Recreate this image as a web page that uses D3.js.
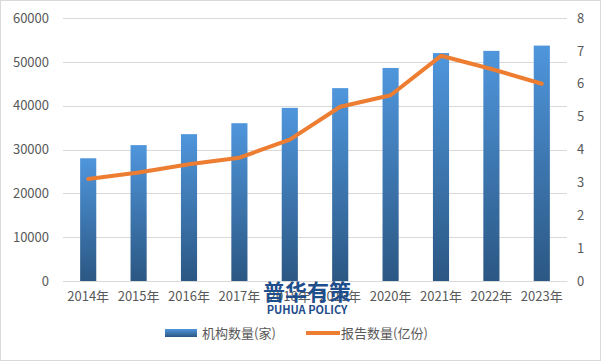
<!DOCTYPE html>
<html>
<head>
<meta charset="utf-8">
<script src="https://cdn.jsdelivr.net/npm/d3@7"></script>
<style>
  body { margin: 0; background: #fff; }
  text { font-family: "Noto Sans CJK SC", "Noto Sans", sans-serif; }
</style>
</head>
<body>
<div id="chart"></div>
<script>
const years = ["2014年","2015年","2016年","2017年","2018年","2019年","2020年","2021年","2022年","2023年"];
const orgCounts = [28000, 31000, 33500, 36000, 39500, 44000, 48600, 52000, 52500, 53700];
const reportCounts = [3.1, 3.3, 3.55, 3.75, 4.3, 5.3, 5.65, 6.85, 6.45, 6.0];
const leftTicks = [0, 10000, 20000, 30000, 40000, 50000, 60000];
const rightTicks = [0, 1, 2, 3, 4, 5, 6, 7, 8];

const width = 601, height = 361;
const margin = {top: 18, right: 33, bottom: 80, left: 63};

const svg = d3.select("#chart").append("svg")
  .attr("width", width)
  .attr("height", height);

// outer border
svg.append("rect")
  .attr("x", 0.5).attr("y", 0.5)
  .attr("width", width - 1).attr("height", height - 1)
  .attr("fill", "#fff")
  .attr("stroke", "#d9d9d9");

const defs = svg.append("defs");
const grad = defs.append("linearGradient")
  .attr("id", "barGrad")
  .attr("x1", 0).attr("y1", 0).attr("x2", 0).attr("y2", 1);
grad.append("stop").attr("offset", "0%").attr("stop-color", "#4f96dc");
grad.append("stop").attr("offset", "100%").attr("stop-color", "#2b5783");

const legGrad = defs.append("linearGradient")
  .attr("id", "legGrad")
  .attr("x1", 0).attr("y1", 0).attr("x2", 0).attr("y2", 1);
legGrad.append("stop").attr("offset", "0%").attr("stop-color", "#4f96dc");
legGrad.append("stop").attr("offset", "100%").attr("stop-color", "#2b5783");

const x = d3.scaleBand()
  .domain(years)
  .range([margin.left, width - margin.right - 1])
  .paddingInner(0.68)
  .paddingOuter(0.34);

const xc = d3.scaleBand()
  .domain(years)
  .range([margin.left, width - margin.right - 1]);

const yL = d3.scaleLinear()
  .domain([0, 60000])
  .range([height - margin.bottom, margin.top]);

const yR = d3.scaleLinear()
  .domain([0, 8])
  .range([height - margin.bottom, margin.top]);

// gridlines
svg.append("g")
  .selectAll("line")
  .data(leftTicks)
  .enter()
  .append("line")
  .attr("x1", margin.left)
  .attr("x2", width - margin.right - 1)
  .attr("y1", d => Math.round(yL(d)) + 0.5)
  .attr("y2", d => Math.round(yL(d)) + 0.5)
  .attr("stroke", "#d9d9d9");

// left axis
const leftAxis = svg.append("g")
  .attr("transform", "translate(" + (margin.left - 14) + ",0)")
  .call(d3.axisLeft(yL).tickValues(leftTicks).tickSize(0).tickPadding(0).tickFormat(d3.format("d")));
leftAxis.select(".domain").remove();
leftAxis.selectAll("text")
  .attr("fill", "#595959")
  .style("font-size", "13px");

// right axis
const rightAxis = svg.append("g")
  .attr("transform", "translate(" + (width - margin.right + 9) + ",0)")
  .call(d3.axisRight(yR).tickValues(rightTicks).tickSize(0).tickPadding(0));
rightAxis.select(".domain").remove();
rightAxis.selectAll("text")
  .attr("fill", "#595959")
  .style("font-size", "13px");

// bars
svg.append("g")
  .selectAll("rect")
  .data(orgCounts)
  .enter()
  .append("rect")
  .attr("x", (d, i) => x(years[i]))
  .attr("width", x.bandwidth())
  .attr("y", d => yL(d))
  .attr("height", d => yL(0) - yL(d))
  .attr("fill", "url(#barGrad)");

// bottom axis
const bottomAxis = svg.append("g")
  .attr("transform", "translate(0," + (height - margin.bottom) + ")")
  .call(d3.axisBottom(xc).tickSize(0).tickPadding(11));
bottomAxis.select(".domain")
  .attr("stroke", "#d9d9d9");
bottomAxis.selectAll("text")
  .attr("fill", "#595959")
  .style("font-size", "13px");

// line
const line = d3.line()
  .x((d, i) => xc(years[i]) + xc.bandwidth() / 2)
  .y(d => yR(d));

svg.append("path")
  .datum(reportCounts)
  .attr("d", line)
  .attr("fill", "none")
  .attr("stroke", "#ed7d31")
  .attr("stroke-width", 4)
  .attr("stroke-linejoin", "round")
  .attr("stroke-linecap", "round");

// watermark
svg.append("text")
  .attr("x", 307)
  .attr("y", 300)
  .attr("text-anchor", "middle")
  .attr("fill", "#1f4e8c")
  .style("font-size", "22px")
  .style("font-weight", "bold")
  .text("普华有策");
svg.append("text")
  .attr("x", 307)
  .attr("y", 314)
  .attr("text-anchor", "middle")
  .attr("fill", "#1f4e8c")
  .style("font-size", "11px")
  .style("font-weight", "bold")
  .text("PUHUA POLICY");

// legend
const legend = svg.append("g");
legend.append("rect")
  .attr("x", 165).attr("y", 329)
  .attr("width", 32).attr("height", 8)
  .attr("fill", "url(#legGrad)");
legend.append("text")
  .attr("x", 202).attr("y", 338)
  .attr("fill", "#595959")
  .style("font-size", "13px")
  .text("机构数量(家)");
legend.append("line")
  .attr("x1", 306).attr("x2", 340)
  .attr("y1", 333).attr("y2", 333)
  .attr("stroke", "#ed7d31")
  .attr("stroke-width", 4);
legend.append("text")
  .attr("x", 341).attr("y", 338)
  .attr("fill", "#595959")
  .style("font-size", "13px")
  .text("报告数量(亿份)");
</script>
</body>
</html>
